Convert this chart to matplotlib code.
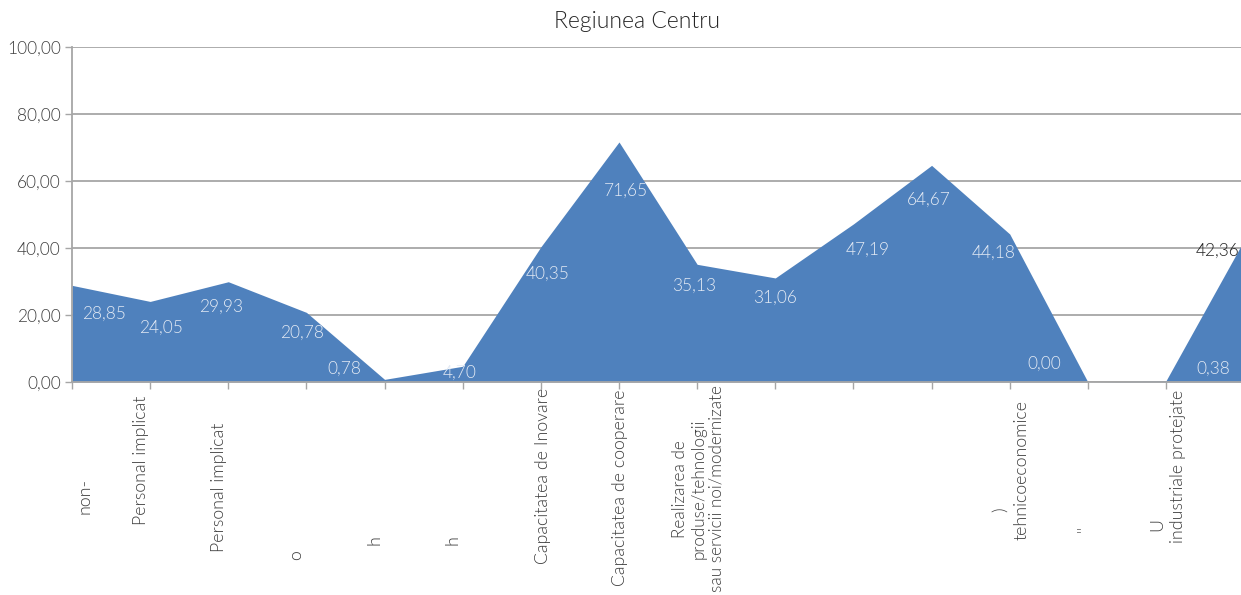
import matplotlib
matplotlib.use("Agg")
import matplotlib.pyplot as plt
import numpy as np

title = "Regiunea Centru"
values = [28.85, 24.05, 29.93, 20.78, 0.78, 4.70, 40.35, 71.65, 35.13, 31.06,
          47.19, 64.67, 44.18, 0.00, 0.38, 42.36]
value_labels = ["28,85", "24,05", "29,93", "20,78", "0,78", "4,70", "40,35", "71,65",
                "35,13", "31,06", "47,19", "64,67", "44,18", "0,00", "0,38", "42,36"]
yticks = [0, 20, 40, 60, 80, 100]
ytick_labels = ["0,00", "20,00", "40,00", "60,00", "80,00", "100,00"]
# visible category-label fragments (category index, text)
category_texts = [
    (0, "non-"),
    (1, "Personal implicat"),
    (2, "Personal implicat"),
    (3, "o"),
    (4, "h"),
    (5, "h"),
    (6, "Capacitatea de Inovare"),
    (7, "Capacitatea de cooperare"),
    (8, "Realizarea de\nproduse/tehnologii\nsau servicii noi/modernizate"),
    (12, ")"),
    (12, "tehnicoeconomice"),
    (13, "\""),
    (14, "U"),
    (14, "industriale protejate"),
]

# ---- layout (pixels) ----
W, H = 1241, 595
DPI = 100
x0_px, y0_px, ytop_px = 72, 382, 47
step_px = (1166 - 72) / 14
# label offsets (dx, dy) in pixels relative to data point (dy positive = up)
label_offsets = [(32, -28), (11, -26), (-7, -25), (-4, -20), (-40, 11), (-3, -7),
                 (7, -27), (7, -49), (-3, -21), (0, -20), (14, -26), (-3, -34),
                 (-16, -19), (-44, 18), (47, 12), (-27, -11)]
# category text placement: (dx px from tick, y px top/center, va, fontsize)
cat_layout = [(12, 478, "top", 12.8), (-9, 396, "top", 12.8), (-9, 423, "top", 12.8),
              (-10, 550, "top", 12.8), (-10, 535, "top", 12.8), (-10, 535, "top", 12.8),
              (2, 388, "top", 12.8), (1, 390, "top", 12.8), (1, 489, "center", 12.3),
              (-10, 507, "top", 12.8), (12, 400, "top", 12.8), (-3, 526, "top", 12.8),
              (-9, 518, "top", 12.8), (12, 390, "top", 12.8)]

FONT = "Lato"
WEIGHT = 300
fill_color = "#4f81bd"
grid_color = "#a6a6a6"
text_color = "#404040"

fig = plt.figure(figsize=(W / DPI, H / DPI), dpi=DPI)
ax_w_px = W - x0_px
ax = fig.add_axes([x0_px / W, 1 - y0_px / H, ax_w_px / W, (y0_px - ytop_px) / H])
xs = np.arange(len(values))
ax.fill_between(xs, values, 0, color=fill_color, linewidth=0, zorder=2)
ax.set_xlim(0, ax_w_px / step_px)
ax.set_ylim(0, 100)

ax.set_yticks(yticks)
ax.set_yticklabels(ytick_labels, fontfamily=FONT, fontweight=WEIGHT, fontsize=12.5,
                   color=text_color)
ax.yaxis.grid(True, color=grid_color, linewidth=1.3, zorder=1)
ax.set_axisbelow(True)
ax.set_xticks(np.arange(15))
ax.set_xticklabels([])
ax.tick_params(axis="y", length=5, width=1, color=grid_color, pad=3)
ax.tick_params(axis="x", length=5, width=1, color=grid_color)
for s in ["top", "right"]:
    ax.spines[s].set_visible(False)
for s in ["left", "bottom"]:
    ax.spines[s].set_color(grid_color)
    ax.spines[s].set_linewidth(1.3)

for i, (v, lab) in enumerate(zip(values, value_labels)):
    dx, dy = label_offsets[i]
    col = "#222222" if i == len(values) - 1 else "#e3eaf4"
    ax.annotate(lab, xy=(i, v), xytext=(dx, dy), textcoords="offset pixels",
                ha="center", va="center", fontfamily=FONT, fontweight=WEIGHT,
                fontsize=12.5, color=col, annotation_clip=False, zorder=5)

for (idx, txt), (dx, ypx, va, fs) in zip(category_texts, cat_layout):
    fig.text((x0_px + idx * step_px + dx) / W, 1 - ypx / H, txt, rotation=90,
             ha="center", va=va, multialignment="center", fontfamily=FONT,
             fontweight=WEIGHT, fontsize=fs, color=text_color, linespacing=1.15)

fig.text(637 / W, 1 - 22 / H, title, ha="center", va="center", fontfamily=FONT,
         fontweight=WEIGHT, fontsize=16.5, color="#262626")

fig.savefig("out.png", dpi=DPI)
